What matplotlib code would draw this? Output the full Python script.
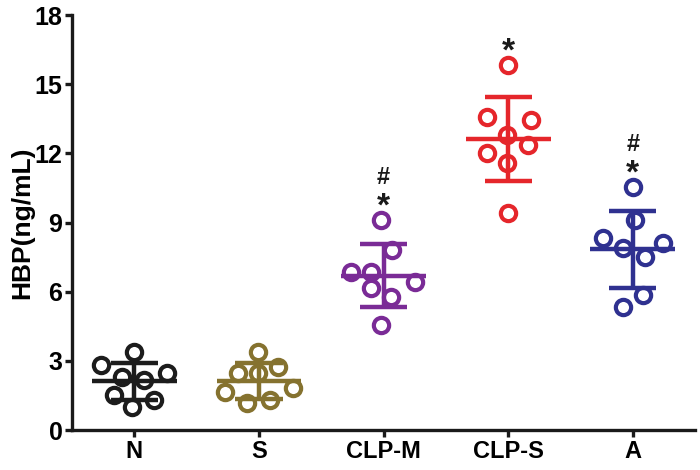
import matplotlib
matplotlib.use("Agg")
import matplotlib.pyplot as plt
import numpy as np

plt.rcParams['font.family'] = ['Liberation Sans', 'DejaVu Sans']

categories = ["N", "S", "CLP-M", "CLP-S", "A"]
colors = ["#1c1c1c", "#85722f", "#7a2b96", "#e5262b", "#2f3190"]

values = {
    "N":     [3.38, 2.82, 2.30, 2.17, 2.47, 1.52, 1.00, 1.30],
    "S":     [3.38, 2.73, 2.47, 2.47, 1.65, 1.82, 1.17, 1.30],
    "CLP-M": [9.11, 7.81, 6.85, 6.85, 6.42, 6.16, 5.77, 4.55],
    "CLP-S": [15.83, 13.57, 13.44, 12.79, 12.36, 12.01, 11.58, 9.41],
    "A":     [10.54, 9.11, 8.33, 7.89, 8.11, 7.50, 5.85, 5.33],
}
jitter = {
    "N":     [0.0, -0.27, -0.10, 0.08, 0.26, -0.16, -0.02, 0.16],
    "S":     [-0.01, 0.15, -0.17, -0.01, -0.27, 0.27, -0.10, 0.09],
    "CLP-M": [-0.02, 0.07, -0.26, -0.10, 0.25, -0.10, 0.06, -0.02],
    "CLP-S": [0.0, -0.17, 0.18, -0.01, 0.16, -0.17, -0.01, 0.0],
    "A":     [0.0, 0.02, -0.24, -0.08, 0.24, 0.10, 0.08, -0.08],
}
annotations = {"CLP-M": ["*", "#"], "CLP-S": ["*"], "A": ["*", "#"]}

fig = plt.figure(figsize=(7.0, 4.7), dpi=100)
ax = fig.add_axes([0.103, 0.085, 0.890, 0.883])

for i, cat in enumerate(categories):
    v = np.array(values[cat])
    x = i + np.array(jitter[cat])
    c = colors[i]
    m = v.mean()
    sd = v.std(ddof=1)
    ax.plot(x, v, 'o', ms=11, mfc='none', mec=c, mew=3.0, zorder=3)
    ax.hlines(m, i - 0.34, i + 0.34, color=c, lw=3.2, zorder=2)
    ax.vlines(i, m - sd, m + sd, color=c, lw=3.2, zorder=2)
    ax.hlines([m - sd, m + sd], i - 0.19, i + 0.19, color=c, lw=3.2, zorder=2)
    if cat in annotations:
        y = v.max() + 0.95
        for txt in annotations[cat]:
            if txt == "*":
                ax.text(i, y - 0.4, txt, ha='center', va='center', fontsize=24,
                        fontweight='bold', color='#1a1a1a')
            else:
                ax.text(i, y - 0.05, txt, ha='center', va='center', fontsize=17,
                        fontweight='bold', color='#1a1a1a')
            y += 0.93

ax.set_xlim(-0.5, 4.5)
ax.set_ylim(0, 18)
ax.set_yticks([0, 3, 6, 9, 12, 15, 18])
ax.set_xticks(range(len(categories)))
ax.set_xticklabels(categories)
for lab in ax.get_xticklabels():
    lab.set_fontweight('bold')
    lab.set_fontsize(17)
for lab in ax.get_yticklabels():
    lab.set_fontweight('bold')
    lab.set_fontsize(18)
ax.set_ylabel("HBP(ng/mL)", fontsize=19, fontweight='bold', labelpad=0)

ax.spines['top'].set_visible(False)
ax.spines['right'].set_visible(False)
for s in ('left', 'bottom'):
    ax.spines[s].set_linewidth(2.4)
    ax.spines[s].set_color('#1a1a1a')
ax.tick_params(axis='both', width=2.4, length=5, color='#1a1a1a', pad=2)

fig.savefig("out.png", dpi=100)
